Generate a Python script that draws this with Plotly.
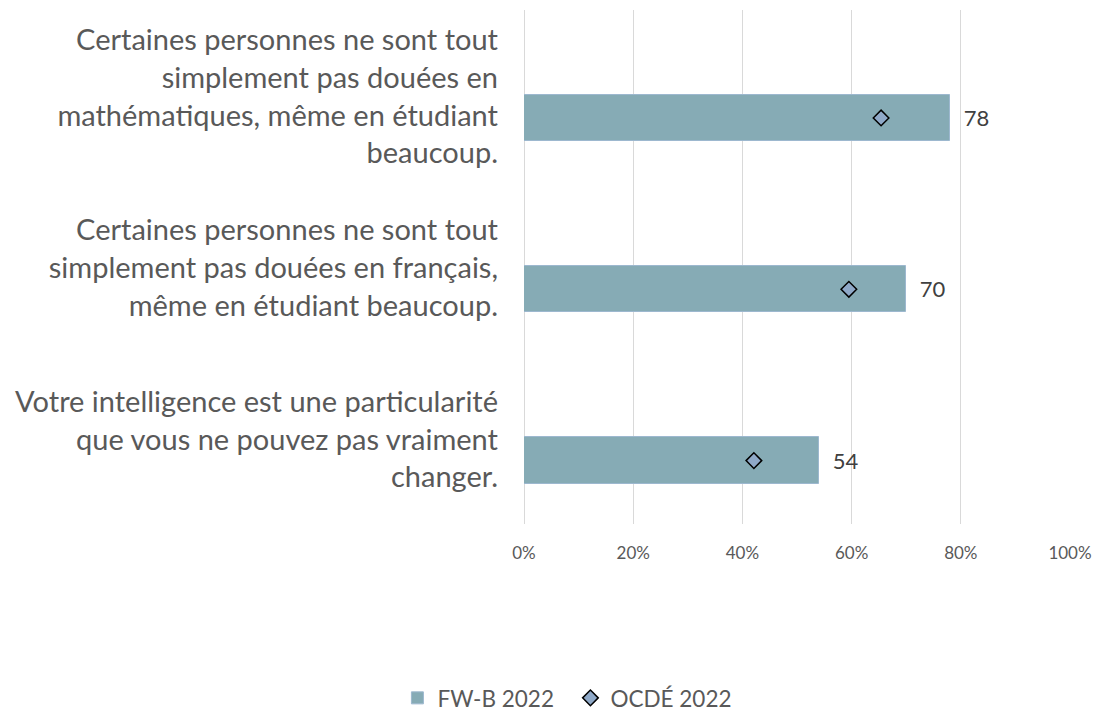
import plotly.graph_objects as go

categories = [
    "Votre intelligence est une particularité<br>que vous ne pouvez pas vraiment<br>changer.",
    "Certaines personnes ne sont tout<br>simplement pas douées en français,<br>même en étudiant beaucoup.",
    "Certaines personnes ne sont tout<br>simplement pas douées en<br>mathématiques, même en étudiant<br>beaucoup.",
]
fwb_2022 = [54, 70, 78]
ocde_2022 = [42.1, 59.5, 65.4]
x_ticks = [0, 20, 40, 60, 80, 100]
x_tick_labels = ["0%", "20%", "40%", "60%", "80%", "100%"]

FONT = "Lato, 'Open Sans', sans-serif"
positions = list(range(len(categories)))
BAR_WIDTH = 0.27
BAR_OFFSET = -0.259  # bars sit slightly below the category centre (as in the source)
marker_pos = [p + BAR_OFFSET + BAR_WIDTH / 2 for p in positions]

fig = go.Figure()
fig.add_trace(go.Bar(
    y=positions, x=fwb_2022, orientation="h", name="FW-B 2022",
    marker=dict(color="#86ABB5", line=dict(color="#9DB8CF", width=1)),
    width=BAR_WIDTH, offset=BAR_OFFSET,
    text=fwb_2022, texttemplate="\u00a0\u00a0%{x}", textposition="outside",
    textfont=dict(size=22, color="#404040", family=FONT),
    cliponaxis=False,
))
fig.add_trace(go.Scatter(
    y=marker_pos, x=ocde_2022, mode="markers", name="OCDÉ 2022",
    marker=dict(symbol="diamond", size=12, color="#8FA9C8",
                line=dict(color="#000000", width=1.5)),
))

fig.update_layout(
    width=1093, height=713,
    margin=dict(l=524, r=23, t=10, b=189, autoexpand=False),
    paper_bgcolor="white", plot_bgcolor="white",
    font=dict(family=FONT, color="#595959"),
    showlegend=True,
    legend=dict(orientation="h", x=0.085, xanchor="center", y=-0.339, yanchor="middle",
                font=dict(size=22.5, color="#595959"), traceorder="normal",
                entrywidth=128),
    bargap=0,
)
fig.update_xaxes(
    range=[0, 100], tickvals=x_ticks, ticktext=x_tick_labels,
    showgrid=True, gridcolor="#D9D9D9", gridwidth=1,
    zeroline=True, zerolinecolor="#D9D9D9", zerolinewidth=1, showline=False,
    tickfont=dict(size=17, color="#595959"),
    ticklabelstandoff=17, automargin=False,
)
fig.update_yaxes(
    range=[-0.494, 2.506], tickvals=positions, ticktext=categories,
    showgrid=False, zeroline=False, showline=False,
    tickfont=dict(size=29, color="#595959"),
    ticklabelstandoff=25, automargin=False,
)

fig.write_html(
    "out.html",
    config={"displayModeBar": False},
    post_script="document.body.style.margin='0';document.body.style.overflow='hidden';",
)
